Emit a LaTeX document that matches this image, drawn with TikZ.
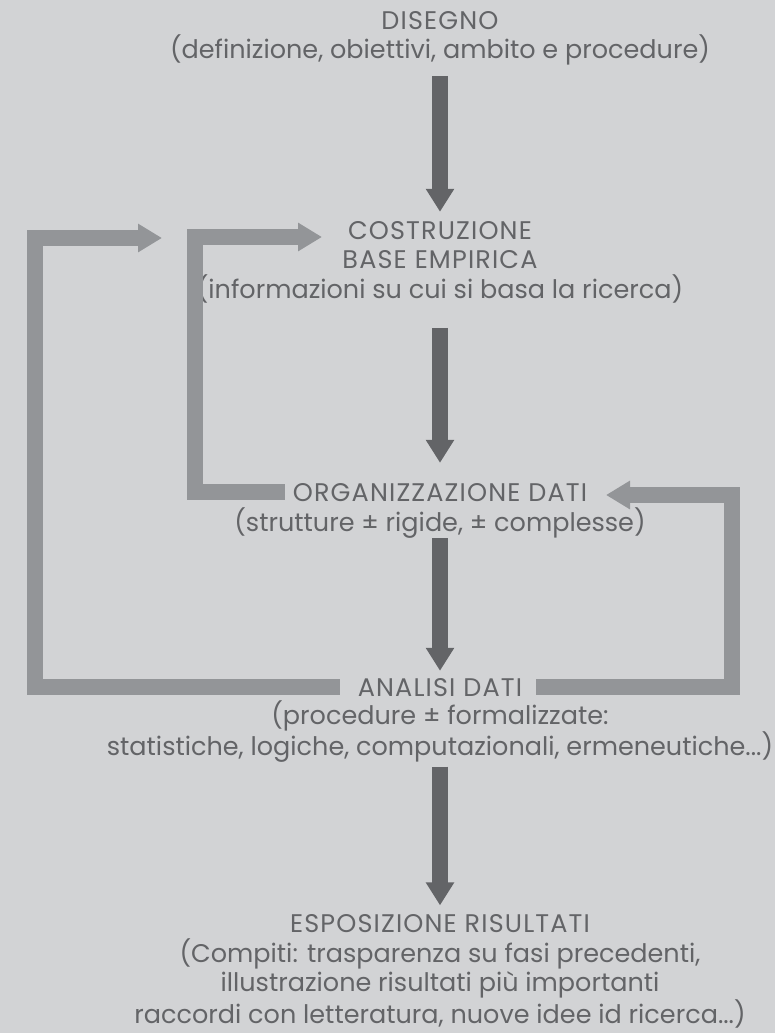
\documentclass[tikz,border=0pt]{standalone}
\usepackage{fontspec}
\setmainfont{Poppins}
\usetikzlibrary{arrows.meta,positioning,calc}
\definecolor{bgGrey}{HTML}{D2D3D5}
\definecolor{darkGrey}{HTML}{636467}
\definecolor{lightGrey}{HTML}{939598}
\newcommand{\phase}[1]{{\addfontfeature{LetterSpace=4.5}#1}}

\begin{document}
\begin{tikzpicture}[
  x=1pt,y=-1pt,
  every node/.style={font=\fontsize{25.5}{29.5}\selectfont,text=darkGrey,align=center,inner sep=0pt,anchor=base},
  down/.style={draw=darkGrey,line width=16pt,-{Triangle[length=23pt,width=27pt]}},
  back/.style={draw=lightGrey,line width=16pt,line join=miter,-{Triangle[length=24pt,width=27pt]}}
]%
  \fill[bgGrey] (0,0) rectangle (775,1033);
  \useasboundingbox (0,0) rectangle (775,1033);

  % blocks are placed by the baseline of their last line
  \node (disegno)     at (440,59)     {\phase{DISEGNO}\\(definizione, obiettivi, ambito e procedure)};
  \node (costruzione) at (440,298)    {\phase{COSTRUZIONE}\\\phase{BASE EMPIRICA}\\(informazioni su cui si basa la ricerca)};
  \node (organizz)    at (440,501)    {\phase{ORGANIZZAZIONE DATI}};
  \node (organizzSub) at (440,531)    {(strutture ± rigide, ± complesse)};
  \node (analisi)     at (440,696)    {\phase{ANALISI DATI}};
  \node (analisiSub)  at (440,755.5)  {(procedure ± formalizzate:\\statistiche, logiche, computazionali, ermeneutiche...)};
  \node (esposizione) at (440,1023)   {\phase{ESPOSIZIONE RISULTATI}\\(Compiti: trasparenza su fasi precedenti,\\illustrazione risultati più importanti\\raccordi con letteratura, nuove idee id ricerca...)};

  \coordinate (innerCorner) at (195,237);
  \coordinate (innerTip)    at (322,237);
  \coordinate (outerCorner) at (35,238);
  \coordinate (outerTip)    at (162,238);
  \coordinate (rightCorner) at (732,495);
  \coordinate (rightTip)    at (606,495);

  \draw[down,shorten <=10pt,shorten >=9pt]  (disegno.south) -- (costruzione.north);
  \draw[down,shorten <=25pt,shorten >=20pt] (costruzione.south) -- (organizz.north);
  \draw[down,shorten <=0pt,shorten >=7pt]   (organizzSub.south) -- (analisi.north);
  \draw[down,shorten <=4pt,shorten >=9pt]   (analisiSub.south) -- (esposizione.north);

  \draw[back,shorten <=8pt]  (organizz.west) -| (innerCorner) -- (innerTip);
  \draw[back,shorten <=18pt] (analisi.west) -| (outerCorner) -- (outerTip);
  \draw[back,shorten <=14pt] (analisi.east) -| (rightCorner) -- (rightTip);

\end{tikzpicture}
\end{document}
